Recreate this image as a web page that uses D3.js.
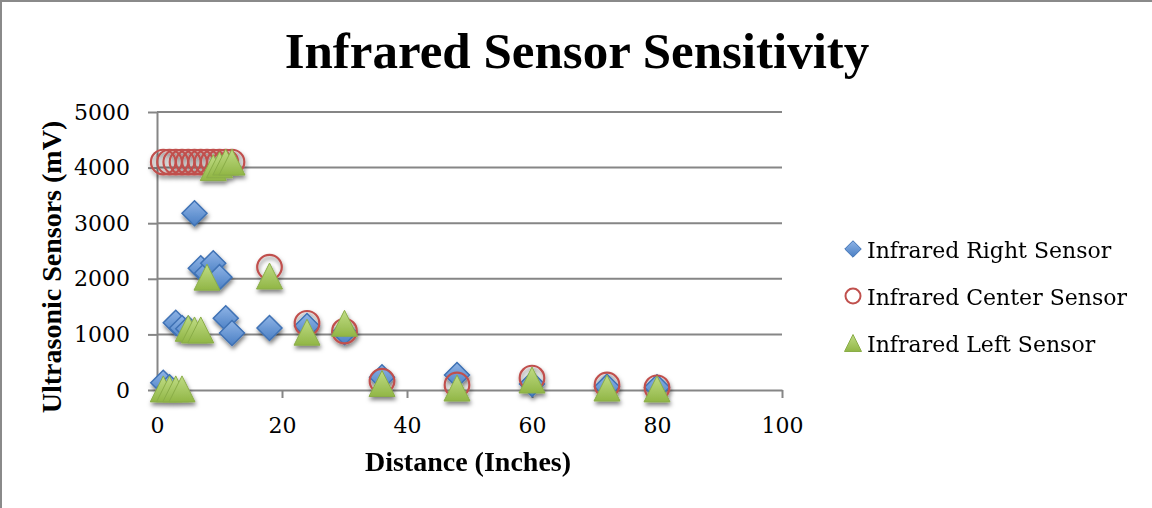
<!DOCTYPE html>
<html lang='en'>
<head>
  <meta charset='UTF-8'>
  <title>Infrared Sensor Sensitivity</title>
  <style>
  body {
    margin: 0;
    background: #fff;
  }
  svg {
    display: block;
  }
  .axis path, .axis line, .grid line {
    stroke: #868686;
    stroke-width: 2;
  }
  .axis text {
    font-family: 'DejaVu Serif', serif;
    font-size: 22px;
    fill: #000;
  }
  .title {
    font-family: 'Liberation Serif', serif;
    font-weight: bold;
    font-size: 51px;
  }
  .label {
    font-family: 'Liberation Serif', serif;
    font-weight: bold;
    font-size: 28px;
  }
  .legend text {
    font-family: 'DejaVu Serif', serif;
    font-size: 22px;
  }
  </style>
  <script src='https://d3js.org/d3.v7.min.js'></script>
</head>
<body>
  <script>

  // data
  var distances    = [1, 2, 3, 4, 5, 6, 7, 8, 9, 10, 11, 12, 18, 24, 30, 36, 48, 60, 72, 80];
  var rightSensor  = [130, 50, 1210, 1115, 1100, 3180, 2190, 2100, 2280, 2030, 1290, 1025, 1115, 1150, 1040, 230, 270, 110, 60, 50];
  var centerSensor = [4100, 4100, 4100, 4100, 4100, 4100, 4100, 4100, 4100, 4100, 4100, 4100, 2210, 1200, 1060, 160, 90, 215, 90, 40];
  var leftSensor   = [20, 20, 20, 20, 1110, 1080, 1080, 2030, 4000, 4050, 4100, 4100, 2050, 1040, 1200, 117, 36, 180, 36, 20];
  var seriesNames  = ['Infrared Right Sensor', 'Infrared Center Sensor', 'Infrared Left Sensor'];
  var xTicks = [0, 20, 40, 60, 80, 100];
  var yTicks = [0, 1000, 2000, 3000, 4000, 5000];

  var svgWidth = 1152;
  var svgHeight = 508;
  var plot = { left: 157, right: 782, top: 112, bottom: 390 };

  var svg = d3.select('body').append('svg')
    .attr('width', svgWidth)
    .attr('height', svgHeight);

  var defs = svg.append('defs');

  var shadow = defs.append('filter').attr('id', 'shadow')
    .attr('x', '-50%').attr('y', '-50%').attr('width', '200%').attr('height', '200%');
  shadow.append('feDropShadow')
    .attr('dx', 1).attr('dy', 3).attr('stdDeviation', 2)
    .attr('flood-color', '#000').attr('flood-opacity', 0.5);

  function gradient(id, top, bottom) {
    var g = defs.append('linearGradient').attr('id', id)
      .attr('x1', 0).attr('y1', 0).attr('x2', 0).attr('y2', 1);
    g.append('stop').attr('offset', '0%').attr('stop-color', top);
    g.append('stop').attr('offset', '100%').attr('stop-color', bottom);
  }
  gradient('blueFill', '#8fb4e6', '#4a7fc4');
  gradient('greenFill', '#c0dc85', '#91b646');

  // chart border (cropped on the right and bottom)
  svg.append('rect')
    .attr('x', 1).attr('y', 1)
    .attr('width', svgWidth + 20).attr('height', svgHeight + 20)
    .attr('fill', 'none')
    .attr('stroke', '#8a8a8a')
    .attr('stroke-width', 2);

  var x = d3.scaleLinear().domain([0, 100]).range([plot.left, plot.right]);
  var y = d3.scaleLinear().domain([0, 5000]).range([plot.bottom, plot.top]);

  // custom marker shapes
  var diamond = {
    draw: function (ctx, size) {
      var r = Math.sqrt(size) / 2;
      ctx.moveTo(0, -r); ctx.lineTo(r, 0); ctx.lineTo(0, r); ctx.lineTo(-r, 0); ctx.closePath();
    }
  };
  var triangle = {
    draw: function (ctx, size) {
      var r = Math.sqrt(size) / 2;
      ctx.moveTo(0, -r); ctx.lineTo(r, r); ctx.lineTo(-r, r); ctx.closePath();
    }
  };

  // gridlines

  svg.append('g')
    .attr('class', 'grid')
    .selectAll('line')
    .data(yTicks.slice(1))
    .enter()
    .append('line')
    .attr('x1', plot.left).attr('x2', plot.right)
    .attr('y1', function (d) { return y(d); })
    .attr('y2', function (d) { return y(d); });

  // axes

  svg.append('g')
    .attr('class', 'axis')
    .attr('transform', 'translate(0,' + plot.bottom + ')')
    .call(d3.axisBottom(x).tickValues(xTicks).tickFormat(d3.format('d'))
      .tickSize(8).tickSizeOuter(0).tickPadding(19));

  svg.append('g')
    .attr('class', 'axis')
    .attr('transform', 'translate(' + plot.left + ',0)')
    .call(d3.axisLeft(y).tickValues(yTicks).tickFormat(d3.format('d'))
      .tickSize(9).tickSizeOuter(0).tickPadding(18));

  // markers

  var points = svg.append('g').attr('filter', 'url(#shadow)');

  points.selectAll('.right')
    .data(distances)
    .enter()
    .append('path')
    .attr('class', 'right')
    .attr('d', d3.symbol().type(diamond).size(625))
    .attr('transform', function (d, i) { return 'translate(' + x(d) + ',' + y(rightSensor[i]) + ')'; })
    .attr('fill', 'url(#blueFill)')
    .attr('stroke', '#3f72b5')
    .attr('stroke-width', 1.5);

  points.selectAll('.center')
    .data(distances)
    .enter()
    .append('circle')
    .attr('class', 'center')
    .attr('cx', function (d) { return x(d); })
    .attr('cy', function (d, i) { return y(centerSensor[i]); })
    .attr('r', 12.3)
    .attr('fill', 'none')
    .attr('stroke', '#c0504d')
    .attr('stroke-width', 2.2);

  points.selectAll('.left')
    .data(distances)
    .enter()
    .append('path')
    .attr('class', 'left')
    .attr('d', d3.symbol().type(triangle).size(676))
    .attr('transform', function (d, i) { return 'translate(' + x(d) + ',' + y(leftSensor[i]) + ')'; })
    .attr('fill', 'url(#greenFill)')
    .attr('stroke', '#8aad48')
    .attr('stroke-width', 1);

  // title and axis labels

  svg.append('text')
    .attr('class', 'title')
    .attr('x', 577)
    .attr('y', 68)
    .attr('text-anchor', 'middle')
    .text('Infrared Sensor Sensitivity');

  svg.append('text')
    .attr('class', 'label')
    .attr('x', 468)
    .attr('y', 471)
    .attr('text-anchor', 'middle')
    .text('Distance (Inches)');

  svg.append('text')
    .attr('class', 'label')
    .attr('text-anchor', 'middle')
    .attr('transform', 'translate(61,267) rotate(-90)')
    .text('Ultrasonic Sensors (mV)');

  // legend

  var legend = svg.append('g').attr('class', 'legend');
  var rows = legend.selectAll('g')
    .data(seriesNames)
    .enter()
    .append('g')
    .attr('transform', function (d, i) { return 'translate(853,' + (249 + i * 47) + ')'; });

  rows.filter(function (d, i) { return i === 0; })
    .append('path')
    .attr('d', d3.symbol().type(diamond).size(272))
    .attr('fill', 'url(#blueFill)')
    .attr('stroke', '#3f72b5');

  rows.filter(function (d, i) { return i === 1; })
    .append('circle')
    .attr('r', 7.5)
    .attr('fill', 'none')
    .attr('stroke', '#c0504d')
    .attr('stroke-width', 2);

  rows.filter(function (d, i) { return i === 2; })
    .append('path')
    .attr('d', d3.symbol().type(triangle).size(289))
    .attr('fill', 'url(#greenFill)')
    .attr('stroke', '#8aad48');

  rows.append('text')
    .attr('x', 14)
    .attr('y', 9)
    .text(function (d) { return d; });

  </script>
</body>
</html>
